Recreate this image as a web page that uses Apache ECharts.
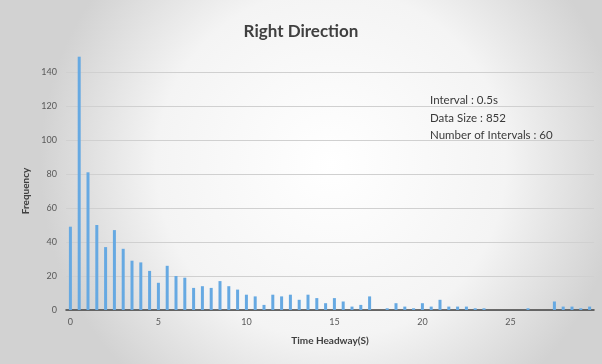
<!DOCTYPE html>
<html>
<head>
<meta charset="utf-8">
<script src="https://cdn.jsdelivr.net/npm/echarts@6/dist/echarts.min.js"></script>
<style>
  html, body { margin: 0; padding: 0; }
  #main { width: 602px; height: 364px; }
</style>
</head>
<body>
<div id="main"></div>
<script>
// bins of 0.5s, labels every 10th bin
var categories = [
  "0", "0.5", "1", "1.5", "2", "2.5", "3", "3.5", "4", "4.5",
  "5", "5.5", "6", "6.5", "7", "7.5", "8", "8.5", "9", "9.5",
  "10", "10.5", "11", "11.5", "12", "12.5", "13", "13.5", "14", "14.5",
  "15", "15.5", "16", "16.5", "17", "17.5", "18", "18.5", "19", "19.5",
  "20", "20.5", "21", "21.5", "22", "22.5", "23", "23.5", "24", "24.5",
  "25", "25.5", "26", "26.5", "27", "27.5", "28", "28.5", "29", "29.5"
];
var frequency = [
  49, 149, 81, 50, 37, 47, 36, 29, 28, 23,
  16, 26, 20, 19, 13, 14, 13, 17, 14, 12,
  9, 8, 3, 9, 8, 9, 6, 9, 7, 4,
  7, 5, 2, 3, 8, 0, 1, 4, 2, 1,
  4, 2, 6, 2, 2, 2, 1, 1, 0, 0,
  0, 0, 1, 0, 0, 5, 2, 2, 1, 2
];
var notes = ["Interval : 0.5s", "Data Size : 852", "Number of Intervals : 60"];

var chart = echarts.init(document.getElementById("main"));
chart.setOption({
  backgroundColor: {
    type: "radial", x: 0.55, y: 0.45, r: 0.8,
    colorStops: [
      { offset: 0, color: "#ffffff" },
      { offset: 0.6, color: "#f4f4f4" },
      { offset: 1, color: "#d2d2d2" }
    ]
  },
  textStyle: { fontFamily: "Lato" },
  title: [
    {
      text: "Right Direction",
      left: "center",
      top: 18,
      textStyle: { fontSize: 17, fontWeight: "bold", color: "#404040", fontFamily: "Lato" }
    },
    {
      text: notes.join("\n"),
      left: 425,
      top: 87,
      textStyle: { fontSize: 11.5, fontWeight: "normal", color: "#3a3a3a", lineHeight: 17.5, fontFamily: "Lato" }
    }
  ],
  grid: { left: 66, right: 8, top: 72, bottom: 54 },
  xAxis: {
    type: "category",
    data: categories,
    name: "Time Headway(S)",
    nameLocation: "middle",
    nameGap: 26,
    nameTextStyle: { fontSize: 10, fontWeight: "bold", color: "#404040" },
    axisLine: { lineStyle: { color: "#404040", width: 1.5 } },
    axisTick: { show: false },
    axisLabel: { interval: 9, fontSize: 9, color: "#595959", margin: 8 }
  },
  yAxis: {
    type: "value",
    min: 0,
    max: 140,
    interval: 20,
    name: "Frequency",
    nameLocation: "middle",
    nameGap: 32,
    nameTextStyle: { fontSize: 10, fontWeight: "bold", color: "#404040" },
    axisLine: { show: false },
    axisTick: { show: false },
    axisLabel: { fontSize: 9, color: "#595959", margin: 9 },
    splitLine: { lineStyle: { color: "#d0d0d0", width: 1 } }
  },
  series: [
    {
      type: "bar",
      data: frequency,
      barWidth: 3,
      clip: false,
      itemStyle: { color: "#66a9e2" }
    }
  ]
});
</script>
</body>
</html>
